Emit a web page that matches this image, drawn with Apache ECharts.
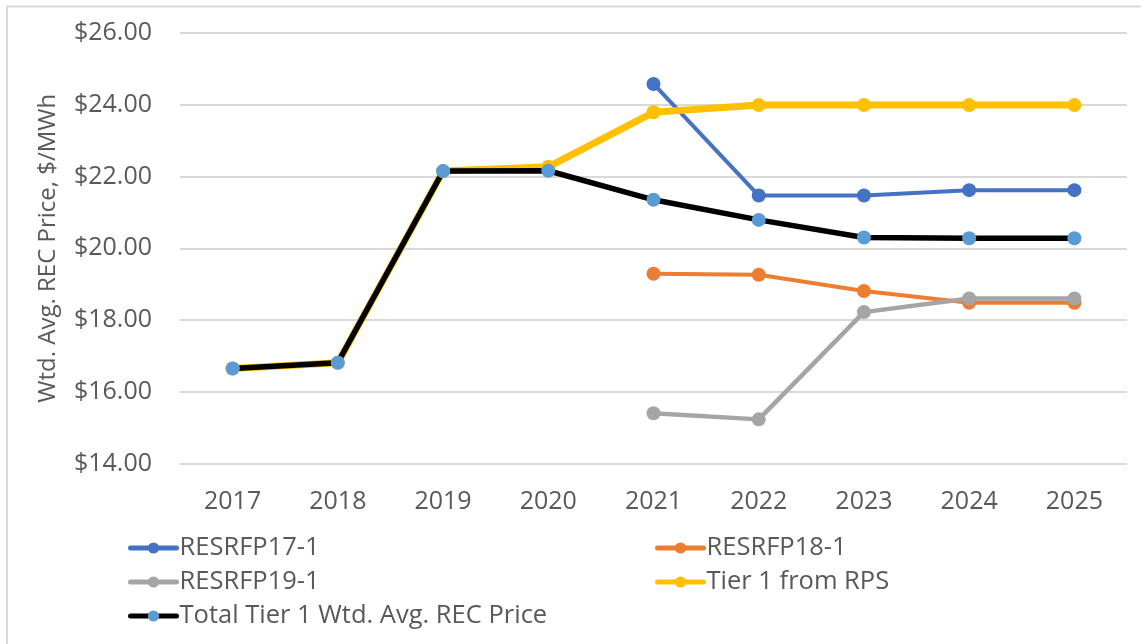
<!DOCTYPE html>
<html>
<head>
<meta charset="utf-8">
<script src="https://cdn.jsdelivr.net/npm/echarts@6/dist/echarts.min.js"></script>
<style>
  * { margin: 0; padding: 0; }
  body { background: #fff; }
  #main { width: 1141px; height: 644px; }
</style>
</head>
<body>
<div id="main"></div>
<script>
  var years = ['2017', '2018', '2019', '2020', '2021', '2022', '2023', '2024', '2025'];
  var resrfp17 = [null, null, null, null, 24.58, 21.47, 21.47, 21.62, 21.62];
  var resrfp18 = [null, null, null, null, 19.29, 19.26, 18.81, 18.48, 18.48];
  var resrfp19 = [null, null, null, null, 15.40, 15.23, 18.22, 18.60, 18.60];
  var tier1Rps = [16.65, 16.81, 22.15, 22.27, 23.79, 23.99, 23.99, 23.99, 23.99];
  var totalTier1 = [16.65, 16.81, 22.15, 22.16, 21.35, 20.79, 20.30, 20.28, 20.28];

  var font = '"Open Sans", sans-serif';
  var textColor = '#595959';

  function lineSeries(name, data, color, width, dotColor) {
    return {
      name: name,
      type: 'line',
      data: data,
      symbol: 'circle',
      symbolSize: 14,
      showAllSymbol: true,
      lineStyle: { color: color, width: width, cap: 'round', join: 'round' },
      itemStyle: { color: dotColor || color }
    };
  }

  function legendCol(left, names) {
    return {
      orient: 'vertical',
      left: left,
      top: 530,
      itemWidth: 46,
      itemHeight: 14,
      itemGap: 8,
      lineStyle: { width: 5, cap: 'round' },
      textStyle: { fontFamily: font, fontSize: 25.5, color: textColor, lineHeight: 25, padding: [0, 0, 0, -2] },
      data: names
    };
  }

  var chart = echarts.init(document.getElementById('main'));
  chart.setOption({
    animation: false,
    backgroundColor: '#fff',
    graphic: [
      { type: 'line', shape: { x1: 6, y1: 6.5, x2: 1141, y2: 6.5 }, style: { stroke: '#d9d9d9', lineWidth: 2 } },
      { type: 'line', shape: { x1: 7, y1: 6, x2: 7, y2: 644 }, style: { stroke: '#d9d9d9', lineWidth: 2 } }
    ],
    grid: { left: 180, right: 14, top: 33, bottom: 180.5, containLabel: false },
    legend: [
      legendCol(123, ['RESRFP17-1', 'RESRFP19-1', 'Total Tier 1 Wtd. Avg. REC Price']),
      legendCol(650, ['RESRFP18-1', 'Tier 1 from RPS'])
    ],
    xAxis: {
      type: 'category',
      data: years,
      boundaryGap: true,
      axisLine: { show: false },
      axisTick: { show: false },
      axisLabel: { fontFamily: font, fontSize: 25, color: textColor, margin: 26 }
    },
    yAxis: {
      type: 'value',
      min: 14,
      max: 26,
      interval: 2,
      name: 'Wtd. Avg. REC Price, $/MWh',
      nameLocation: 'middle',
      nameGap: 120,
      nameTextStyle: { fontFamily: font, fontSize: 24, color: textColor },
      axisLine: { show: false },
      axisTick: { show: false },
      splitLine: { lineStyle: { color: '#d9d9d9', width: 2 } },
      axisLabel: {
        fontFamily: font, fontSize: 25, color: textColor, margin: 28,
        formatter: function (v) { return '$' + v.toFixed(2); }
      }
    },
    series: [
      lineSeries('RESRFP17-1', resrfp17, '#4472c4', 4),
      lineSeries('RESRFP18-1', resrfp18, '#ed7d31', 4),
      lineSeries('RESRFP19-1', resrfp19, '#a5a5a5', 4.5),
      lineSeries('Tier 1 from RPS', tier1Rps, '#ffc000', 7),
      lineSeries('Total Tier 1 Wtd. Avg. REC Price', totalTier1, '#000000', 5.5, '#5b9bd5')
    ]
  });
</script>
</body>
</html>
